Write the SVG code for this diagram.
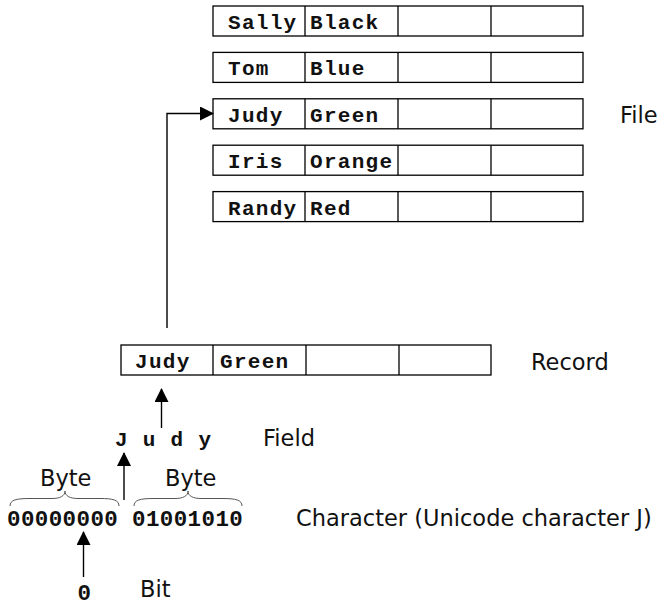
<svg xmlns="http://www.w3.org/2000/svg" width="664" height="608" viewBox="0 0 664 608">
  <style>
    .cell { fill: #ffffff; stroke: #000000; stroke-width: 1.3; }
    .div { stroke: #000000; stroke-width: 1.3; }
    .mono { font-family: "Liberation Mono", "Courier New", monospace; font-weight: bold; font-size: 21px; letter-spacing: 1.3px; fill: #111111; }
    .digits { font-family: "Liberation Mono", "Courier New", monospace; font-weight: bold; font-size: 22.5px; letter-spacing: 0.4px; fill: #111111; }
    .label { font-family: "DejaVu Sans", "Liberation Sans", sans-serif; font-size: 22.5px; fill: #111111; }
    .line { fill: none; stroke: #000000; stroke-width: 1.4; }
    .brace { fill: none; stroke: #555555; stroke-width: 1; }
  </style>
  <defs>
    <marker id="arrow" viewBox="0 0 14 14" refX="13" refY="7" markerWidth="14" markerHeight="14" markerUnits="userSpaceOnUse" orient="auto">
      <path d="M0,0 L14,7 L0,14 Z" fill="#000000"/>
    </marker>
    <!-- one four-field row: name, colour and two empty fields -->
    <g id="row">
      <rect class="cell" x="0" y="0" width="370" height="30"/>
      <line class="div" x1="92" y1="0" x2="92" y2="30"/>
      <line class="div" x1="185" y1="0" x2="185" y2="30"/>
      <line class="div" x1="278" y1="0" x2="278" y2="30"/>
    </g>
  </defs>

  <!-- File: five records -->
  <g id="file-row-sally" transform="translate(213,6)">
    <use href="#row"/>
    <text class="mono" x="15" y="23">Sally</text>
    <text class="mono" x="97" y="23">Black</text>
  </g>
  <g id="file-row-tom" transform="translate(213,52.4)">
    <use href="#row"/>
    <text class="mono" x="15" y="23">Tom</text>
    <text class="mono" x="97" y="23">Blue</text>
  </g>
  <g id="file-row-judy" transform="translate(213,98.8)">
    <use href="#row"/>
    <text class="mono" x="15" y="23">Judy</text>
    <text class="mono" x="97" y="23">Green</text>
  </g>
  <g id="file-row-iris" transform="translate(213,145.2)">
    <use href="#row"/>
    <text class="mono" x="15" y="23">Iris</text>
    <text class="mono" x="97" y="23">Orange</text>
  </g>
  <g id="file-row-randy" transform="translate(213,191.6)">
    <use href="#row"/>
    <text class="mono" x="15" y="23">Randy</text>
    <text class="mono" x="97" y="23">Red</text>
  </g>
  <g id="file-label">
    <text class="label" x="620" y="123">File</text>
  </g>

  <!-- Record -->
  <g id="record" transform="translate(121,345)">
    <use href="#row"/>
    <text class="mono" x="14" y="23">Judy</text>
    <text class="mono" x="99" y="23">Green</text>
  </g>
  <g id="record-label">
    <text class="label" x="531" y="369.5">Record</text>
  </g>

  <!-- Field -->
  <g id="field">
    <text class="mono" x="115" y="446">J u d y</text>
    <text class="label" x="263" y="446">Field</text>
  </g>

  <!-- Character as two bytes -->
  <g id="character">
    <path class="brace" d="M10,506 C10,500 16,498.5 30,498.5 L52,498.5 C60,498.5 65,496 65,491 C65,496 70,498.5 78,498.5 L100,498.5 C113,498.5 119,500 119,506"/>
    <path class="brace" d="M134,506 C134,500 140,498.5 154,498.5 L175,498.5 C183,498.5 188,496 188,491 C188,496 193,498.5 201,498.5 L222,498.5 C236,498.5 242,500 242,506"/>
    <text class="label" x="40" y="486">Byte</text>
    <text class="label" x="165" y="486">Byte</text>
    <text class="digits" x="7" y="526">00000000</text>
    <text class="digits" x="132" y="526">01001010</text>
    <text class="label" x="296" y="526">Character (Unicode character J)</text>
  </g>

  <!-- Bit -->
  <g id="bit">
    <text class="digits" x="77.5" y="600">0</text>
    <text class="label" x="140" y="597">Bit</text>
  </g>

  <!-- connectors -->
  <g id="connectors">
    <path class="line" d="M167,328 L167,113.5 L213,113.5" marker-end="url(#arrow)"/>
    <line class="line" x1="161.5" y1="428" x2="161.5" y2="389" marker-end="url(#arrow)"/>
    <line class="line" x1="124" y1="500" x2="124" y2="453" marker-end="url(#arrow)"/>
    <line class="line" x1="83.5" y1="577" x2="83.5" y2="532" marker-end="url(#arrow)"/>
  </g>
</svg>
